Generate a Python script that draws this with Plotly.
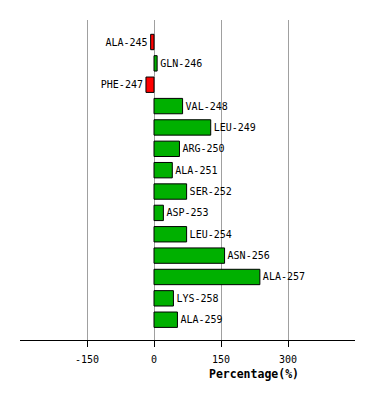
import plotly.graph_objects as go

residues = ["ALA-245", "GLN-246", "PHE-247", "VAL-248", "LEU-249", "ARG-250", "ALA-251",
            "SER-252", "ASP-253", "LEU-254", "ASN-256", "ALA-257", "LYS-258", "ALA-259"]
percent = [-7.5, 7, -18, 64, 127, 57, 41, 73, 21, 73, 158, 237, 43.5, 52.5]
tick_vals = [-150, 0, 150, 300]
tick_text = ["-150", "0", "150", "300"]

colors = ["#ff0000" if v < 0 else "#00b000" for v in percent]

fig = go.Figure(go.Bar(
    x=percent, y=residues, orientation="h",
    marker=dict(color=colors, line=dict(color="black", width=1)),
    width=0.72,
    text=residues, textposition="outside", cliponaxis=False,
    textfont=dict(family="DejaVu Sans Mono", size=10, color="black"),
))

# page body has an 8px margin, so the figure is 8px smaller on each side
fig.update_layout(
    width=366, height=392,
    margin=dict(l=12, r=19, t=12, b=60, autoexpand=False),
    plot_bgcolor="white", paper_bgcolor="white",
    showlegend=False,
    font=dict(family="DejaVu Sans Mono", size=10, color="black"),
    xaxis=dict(range=[-300, 450], tickvals=tick_vals, ticktext=tick_text,
               showgrid=True, gridcolor="#a0a0a0", gridwidth=1,
               zeroline=False, showline=True, linecolor="black", linewidth=1,
               ticks="outside", ticklen=6, tickcolor="black",
               ticklabelstandoff=4,
               tickfont=dict(family="DejaVu Sans Mono", size=10)),
    yaxis=dict(range=[13.95, -1.03], showticklabels=False, showgrid=False,
               zeroline=False, showline=False, ticks=""),
    annotations=[dict(text="<b>Percentage(%)</b>", xref="paper", yref="paper",
                      x=0.699, y=0, yshift=-34, xanchor="center", yanchor="middle",
                      showarrow=False,
                      font=dict(family="DejaVu Sans Mono", size=11.5, color="black"))],
)

fig.write_html("out.html")
